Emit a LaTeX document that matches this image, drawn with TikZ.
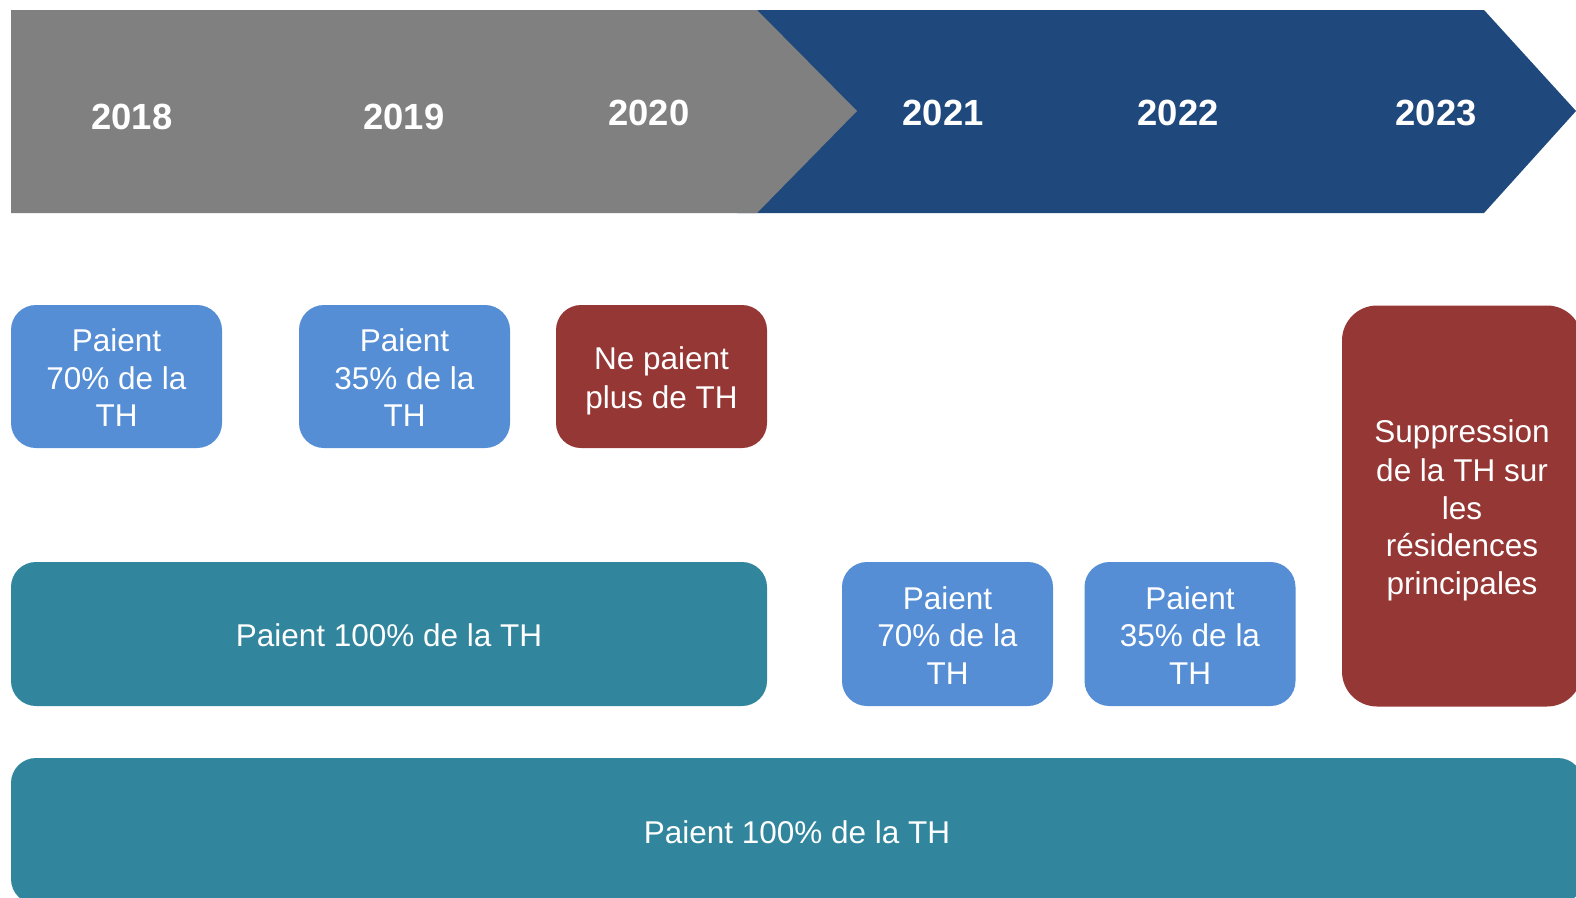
\documentclass[tikz,border=0pt]{standalone}
\usepackage{fontspec}
\setmainfont{Liberation Sans}
\definecolor{cgray}{RGB}{128,128,128}
\definecolor{cnavy}{RGB}{31,73,125}
\definecolor{cteal}{RGB}{49,133,156}
\definecolor{clight}{RGB}{85,142,213}
\definecolor{cred}{RGB}{149,55,53}
\newcommand{\lstr}{\rule[-6pt]{0pt}{37.6pt}}
\begin{document}
\begin{tikzpicture}[x=1pt,y=-1pt,
  year/.style={text=white,font=\fontsize{36.4}{42}\selectfont\bfseries},
  card/.style={text=white,align=center,inner sep=0pt,rounded corners=25pt,
    font=\fontsize{31.5}{37.6}\selectfont,minimum width=211pt,minimum height=143pt},
  bluecard/.style={card,fill=clight},
  redcard/.style={card,fill=cred},
  tealcard/.style={card,fill=cteal}]
\useasboundingbox (0,0) rectangle (1576,897);
\clip (0,0) rectangle (1576,897);
% chevrons
\fill[cnavy] (737,10) -- (1484,10) -- (1576,111) -- (1484,213) -- (737,213) -- cycle;
\fill[cgray] (11,10) -- (757,10) -- (857,111) -- (757,213) -- (11,213) -- cycle;
% years
\node[year] (y2018) at (132,117) {2018};
\node[year] (y2019) at (404,117) {2019};
\node[year] (y2020) at (649,113) {2020};
\node[year] (y2021) at (943,113) {2021};
\node[year] (y2022) at (1178,113) {2022};
\node[year] (y2023) at (1436,113) {2023};
% row 1
\node[bluecard] (b1) at (116.5,376.5) {\lstr Paient\\\lstr 70\% de la\\\lstr TH};
\node[bluecard] (b2) at (404.5,376.5) {\lstr Paient\\\lstr 35\% de la\\\lstr TH};
\node[redcard] (b3) at (661.5,376.5) {\lstr Ne paient\\\lstr plus de TH};
\node[redcard,minimum width=240pt,minimum height=401pt,rounded corners=35pt] (b6) at (1462,506) {\lstr Suppression\\\lstr de la TH sur\\\lstr les\\\lstr résidences\\\lstr principales};
% row 2
\node[tealcard,minimum width=756pt,minimum height=144pt] (t1) at (389,634) {\lstr Paient 100\% de la TH};
\node[bluecard,minimum height=144pt] (b4) at (947.5,634) {\lstr Paient\\\lstr 70\% de la\\\lstr TH};
\node[bluecard,minimum height=144pt] (b5) at (1190,634) {\lstr Paient\\\lstr 35\% de la\\\lstr TH};
% row 3
\node[tealcard,minimum width=1572pt,minimum height=146pt] (t2) at (797,831) {\lstr Paient 100\% de la TH};
\end{tikzpicture}
\end{document}
